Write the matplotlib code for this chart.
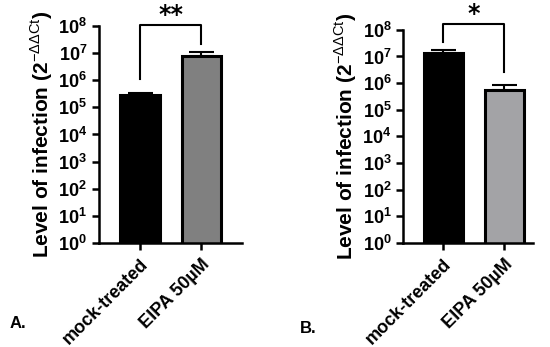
import numpy as np
import matplotlib.pyplot as plt

plt.rcParams['font.family'] = ['Liberation Sans', 'DejaVu Sans']
plt.rcParams['mathtext.fontset'] = 'custom'
plt.rcParams['mathtext.rm'] = 'Liberation Sans'
plt.rcParams['mathtext.bf'] = 'Liberation Sans:bold'

groups = ['mock-treated', 'EIPA 50\u00b5M']
vals_a = [2.9e5, 8.0e6]
err_a = [0.6e5, 3.0e6]
vals_b = [1.4e7, 5.3e5]
err_b = [0.4e7, 3.4e5]
colors_a = ['black', '#808080']
colors_b = ['black', '#a3a3a6']

fig = plt.figure(figsize=(5.5, 3.47), dpi=100)
ax1 = fig.add_axes([0.18, 0.30, 0.26, 0.625])
ax2 = fig.add_axes([0.733, 0.30, 0.236, 0.614])

def draw(ax, vals, err, colors, xlim, stars, br_y, drop_l, drop_r, star_y):
    x = np.arange(len(vals))
    ax.bar(x, vals, width=0.64, color=colors, edgecolor='black', linewidth=2.2, zorder=2)
    ax.errorbar(x, vals, yerr=[[0, 0], err], fmt='none', ecolor='black',
                elinewidth=1.5, capsize=9, capthick=1.5, zorder=1)
    ax.set_yscale('log')
    ax.set_ylim(1, 1e8)
    ax.set_xlim(*xlim)
    ax.set_yticks([10.0**k for k in range(9)])
    ax.set_yticklabels([r'$\mathbf{10^{%d}}$' % k for k in range(9)])
    ax.yaxis.set_minor_locator(plt.NullLocator())
    ax.set_xticks(x)
    ax.set_xticklabels(groups, rotation=45, ha='right', rotation_mode='anchor',
                       fontsize=12.5, fontweight='bold')
    for s in ['top', 'right']:
        ax.spines[s].set_visible(False)
    for s in ['left', 'bottom']:
        ax.spines[s].set_linewidth(1.8)
    ax.tick_params(axis='both', width=1.8, length=5, labelsize=13)
    ax.tick_params(axis='x', pad=4)
    ax.set_ylabel(r'Level of infection (2$^{\mathrm{-\Delta\Delta Ct}}$)', fontsize=15,
                  fontweight='bold', labelpad=2)
    # significance bracket
    ax.plot([0, 0, 1, 1], [drop_l, br_y, br_y, drop_r], color='black', lw=1.5,
            clip_on=False)
    ax.text(0.5, star_y, stars, ha='center', va='center', fontsize=17,
            fontweight='bold', family='DejaVu Sans', clip_on=False)

draw(ax1, vals_a, err_a, colors_a, (-0.667, 1.66), '**', 1.05e8, 1.1e6, 2.2e7, 2.6e8)
draw(ax2, vals_b, err_b, colors_b, (-0.656, 1.475), '*', 1.7e8, 3.5e7, 2.7e6, 4.0e8)

fig.text(0.018, 0.055, 'A.', fontsize=12, fontweight='bold')
fig.text(0.545, 0.04, 'B.', fontsize=12, fontweight='bold')

plt.savefig('out.png', dpi=100)
